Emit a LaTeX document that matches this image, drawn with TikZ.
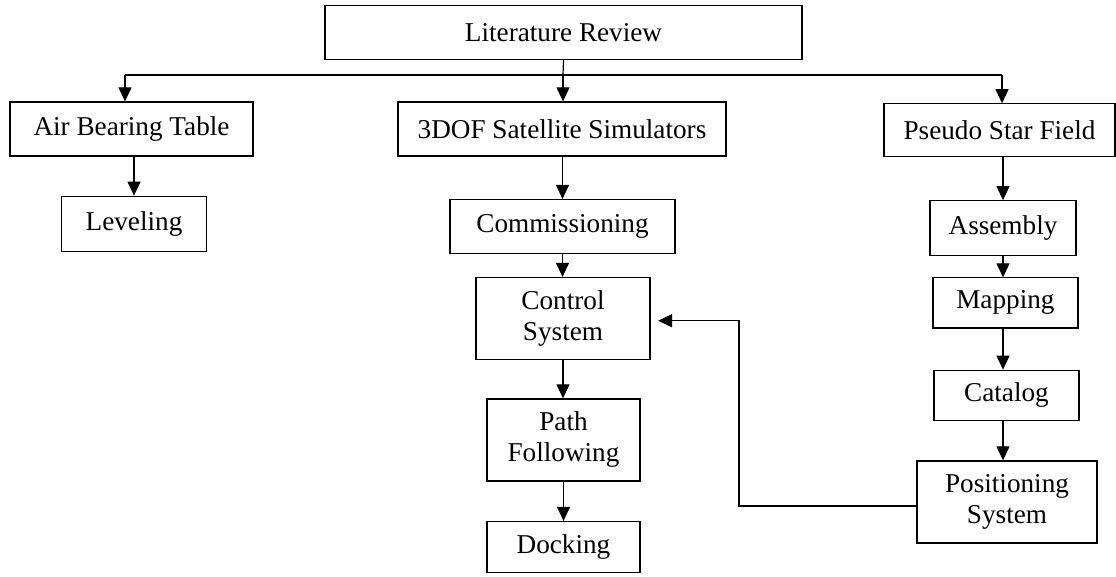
\documentclass[tikz,border=0pt]{standalone}
\usepackage{fontspec}
\setmainfont{Liberation Serif}
\usetikzlibrary{arrows.meta}
\begin{document}
\begin{tikzpicture}[x=1pt,y=-1pt,
  box/.style={draw, line width=1.2pt, inner sep=0pt, align=center,
    font=\fontsize{27.2}{31}\selectfont},
  arr/.style={line width=1.2pt, -{Triangle[length=14pt,width=13pt]}},
  link/.style={line width=1.2pt}]
\useasboundingbox (0,0) rectangle (1116,577);

% top level
\node[box, minimum width=477pt, minimum height=54pt] (lr) at (563.5,32.5) {Literature Review};

% second level
\node[box, minimum width=243pt, minimum height=54pt] (abt) at (131.5,129) {Air Bearing Table};
\node[box, minimum width=328pt, minimum height=54pt] (dof) at (562,129) {3DOF Satellite Simulators};
\node[box, minimum width=231pt, minimum height=53pt] (psf) at (999.5,130.3) {Pseudo Star Field};

% left branch
\node[box, minimum width=145pt, minimum height=55pt] (lev) at (134,223.7) {Leveling};

% middle branch
\node[box, minimum width=225pt, minimum height=54pt] (com) at (562.5,226.5) {Commissioning};
\node[box, minimum width=174pt, minimum height=82pt] (ctl) at (563,318.5) {Control\\System};
\node[box, minimum width=153pt, minimum height=82pt] (pf) at (563.5,439.9) {Path\\Following};
\node[box, minimum width=153pt, minimum height=51pt] (dock) at (563.5,547) {Docking};

% right branch
\node[box, minimum width=146pt, minimum height=55pt] (asm) at (1003,228.2) {Assembly};
\node[box, minimum width=145pt, minimum height=50pt] (map) at (1005.4,302.9) {Mapping};
\node[box, minimum width=145pt, minimum height=50pt] (cat) at (1006.5,395.2) {Catalog};
\node[box, minimum width=180pt, minimum height=82pt] (pos) at (1007,501.9) {Positioning\\System};

% distribution bus under the top box
\coordinate (bus) at (563,75);
\coordinate (busL) at (125,75);
\coordinate (busR) at (1002,75);
\draw[link] (lr.south) -- (bus);
\draw[link] (busL) -- (busR);
\draw[arr] (busL) -- (busL |- abt.north);
\draw[arr] (bus) -- (bus |- dof.north);
\draw[arr] (busR) -- (busR |- psf.north);

% vertical chains
\draw[arr] (lev.north |- abt.south) -- (lev.north);
\draw[arr] (dof.south) -- (dof.south -| com.north) -- (com.north);
\draw[arr] (com.south) -- (com.south |- ctl.north);
\draw[arr] (ctl.south) -- (ctl.south |- pf.north);
\draw[arr] (pf.south) -- (pf.south |- dock.north);
\draw[arr] (asm.north |- psf.south) -- (asm.north);
\draw[arr] (asm.south) -- (asm.south |- map.north);
\draw[arr] (asm.south |- map.south) -- (asm.south |- cat.north);
\draw[arr] (asm.south |- cat.south) -- (asm.south |- pos.north);

% feedback from positioning to control
\coordinate (fbB) at (739,506);
\coordinate (fbT) at (739,320.7);
\draw[arr] (pos.west |- fbB) -- (fbB) -- (fbT) -- ([xshift=7.5pt]ctl.east |- fbT);
\end{tikzpicture}
\end{document}
